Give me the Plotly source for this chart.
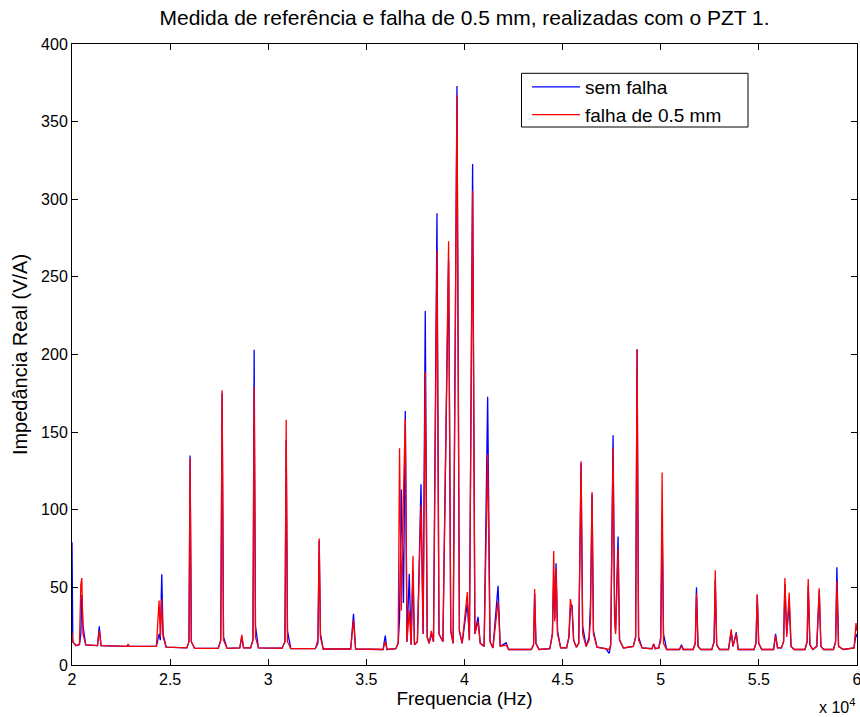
import plotly.graph_objects as go

# ---- data (frequency in Hz, real impedance in V/A) ----
freq_a = [20000, 20040, 20200, 20380, 20450, 20500, 20560, 20700, 21300, 21390, 21480,
          22800, 22856, 22920, 24300, 24437, 24500, 24574, 24640, 24800, 25850, 25960,
          26017, 26080, 26250, 27450, 27580, 27649, 27720, 27900, 28550, 28653, 28740,
          29100, 29220, 29281, 29350, 29500]
sem_a = [79, 15, 12.5, 13, 20, 45, 25, 13, 12.5, 25, 12.5,
         12, 12.5, 12, 12, 20, 16, 58.5, 20, 11.5, 11, 15,
         135, 15, 10.8, 10.7, 16, 175, 18, 10.7, 11, 18, 11,
         11, 16, 203, 25, 11]
falha_a = [21, 15, 12.5, 13.5, 52, 56, 20, 13, 12.5, 22, 12.5,
           12, 13.5, 12, 12, 41.5, 18, 42.5, 18, 11.5, 11, 15,
           133, 15, 10.8, 10.7, 16, 177, 16, 10.7, 11, 19.5, 11,
           11, 16, 179, 18, 11]

freq_b = [30700, 30850, 30913, 30980, 31150, 32400, 32530, 32596, 32660, 32800, 34200,
          34345, 34450, 35850, 35961, 36050, 36500, 36620, 36690, 36780, 36890, 36983,
          37070, 37185, 37280, 37373, 37450, 37600, 37783, 37890, 38000, 38100, 38200,
          38310, 38420, 38597, 38700, 38900, 39190, 39300, 39420, 39617, 39740, 39880]
sem_b = [10.8, 15, 145, 22, 10.5, 10.5, 14, 80, 20, 10.3, 10.3,
         33, 10.3, 10, 19, 10, 10.5, 14, 30, 113, 40, 163.6,
         15, 58.8, 13, 60, 13, 15, 116.4, 20, 228, 18, 14,
         20, 15, 291, 20, 15, 261, 22, 14, 373, 22, 14]
falha_b = [10.8, 15, 158, 15, 10.5, 10.5, 16, 81.5, 18, 10.3, 10.3,
           29, 10.3, 10, 15, 10, 10.5, 14, 139.6, 35, 110.6, 158.5,
           15, 35, 13, 70.4, 13, 15, 103, 20, 189, 18, 14,
           22, 15, 267, 20, 15, 273, 22, 14, 367, 22, 14]

freq_c = [40145, 40250, 40413, 40530, 40690, 40800, 41000, 41180, 41300, 41450, 41710,
          41820, 42118, 42250, 43400, 43520, 43575, 43640, 43800, 44350, 44480, 44545,
          44600, 44665, 44740, 44900, 45200, 45320, 45395, 45480, 45560, 45700, 45820,
          45940, 46020, 46200, 46350, 46420, 46500, 46570, 46750, 47200, 47370, 47450,
          47570, 47650, 47700, 47825, 47900, 48100, 48600, 48720, 48794, 48870, 49050,
          49550, 49640, 49720]
sem_c = [40, 16, 322.7, 20, 31, 14, 12, 172.8, 15, 11, 51,
         12, 14.4, 10, 10, 13, 46, 14, 10, 10.5, 20, 58,
         30, 65.5, 22, 11, 11, 18, 36, 38.6, 16, 11.5, 14,
         130, 25, 12, 18, 40, 110, 22, 11.5, 10.5, 7.5, 13,
         148, 30, 22, 82.7, 16, 11, 12, 18, 203, 18, 11,
         10.5, 13.5, 10.5]
falha_c = [47, 16, 305.5, 20, 28, 14, 12, 135.7, 15, 11, 41,
           12, 13, 10, 10, 13, 49, 14, 10, 10.5, 20, 73.4,
           28, 62, 20, 11, 11, 18, 42.5, 36, 16, 11.5, 14,
           131.2, 20, 12, 16, 30, 111.4, 20, 11.5, 10.5, 10, 13,
           140, 28, 20, 75, 16, 11, 12, 18, 203.5, 16, 11,
           10.5, 13.5, 10.5]

freq_d = [49900, 50000, 50070, 50140, 50300, 50950, 51056, 51150, 51650, 51760, 51820,
          51900, 52050, 52600, 52720, 52776, 52850, 53000, 53450, 53590, 53680, 53846,
          53950, 54750, 54850, 54917, 54990, 55150, 55750, 55850, 55950, 56150, 56260,
          56325, 56420, 56545, 56640, 56800, 57350, 57460, 57515, 57600, 57750, 57950,
          58076, 58160, 58300, 58800, 58910, 58975, 59060, 59300, 59850, 59950, 60000]
sem_d = [11, 18, 96.6, 20, 10, 10, 13, 10, 10, 14, 50,
         12, 10, 10, 15, 55, 13, 10, 10, 21, 12, 21,
         10, 10, 14, 45, 14, 10, 10, 20, 11, 11, 15,
         52, 20, 40, 12, 10, 10, 15, 51, 13, 10, 12,
         48, 12, 10, 10, 15, 63, 12, 10, 11, 20, 18]
falha_d = [11, 16, 124, 14, 10, 10, 12, 10, 10, 14, 46,
           12, 10, 10, 15, 61, 13, 10, 10, 23, 12, 20,
           10, 10, 14, 45.5, 14, 10, 10, 19, 11, 11, 15,
           56, 18, 46.6, 12, 10, 10, 15, 55.4, 13, 10, 12,
           49.4, 12, 10, 10, 15, 54, 12, 10, 11, 27, 22]

x_tickvals = [20000, 25000, 30000, 35000, 40000, 45000, 50000, 55000, 60000]
x_ticktext = ["2", "2.5", "3", "3.5", "4", "4.5", "5", "5.5", "6"]
y_tickvals = [0, 50, 100, 150, 200, 250, 300, 350, 400]

freq = freq_a + freq_b + freq_c + freq_d
sem_falha = sem_a + sem_b + sem_c + sem_d
falha = falha_a + falha_b + falha_c + falha_d

FONT = "Liberation Sans, Arial, Helvetica, sans-serif"
W, H = 860, 717
ML, MR, MT, MB = 72, 3, 44, 52
PW, PH = W - ML - MR, H - MT - MB


def px_x(p):
    return (p - ML) / PW


def px_y(p):
    return (H - MB - p) / PH


fig = go.Figure()
fig.add_trace(go.Scatter(x=freq, y=sem_falha, mode="lines", name="sem falha",
                         line=dict(color="#0000ff", width=1.3)))
fig.add_trace(go.Scatter(x=freq, y=falha, mode="lines", name="falha de 0.5 mm",
                         line=dict(color="#ff0000", width=1.3)))

axis_common = dict(showgrid=False, zeroline=False, showline=True, linecolor="black",
                   linewidth=1, mirror="allticks", ticks="inside", ticklen=6,
                   automargin=False,
                   tickcolor="black", tickfont=dict(family=FONT, size=16, color="black"))

fig.update_layout(
    width=W, height=H,
    margin=dict(l=ML, r=MR, t=MT, b=MB, autoexpand=False),
    paper_bgcolor="white", plot_bgcolor="white",
    font=dict(family=FONT, color="black"),
    title=dict(text="Medida de referência e falha de 0.5 mm, realizadas com o PZT 1.",
               x=0.5, xref="paper", xanchor="center",
               y=1 - 18 / H, yref="container", yanchor="middle",
               font=dict(family=FONT, size=21, color="black")),
    xaxis=dict(range=[20000, 60000], tickvals=x_tickvals, ticktext=x_ticktext,
               ticklabeloverflow="allow",
               title=dict(text="Frequencia (Hz)", font=dict(family=FONT, size=19), standoff=2),
               **axis_common),
    yaxis=dict(range=[0, 400], tickvals=y_tickvals,
               title=dict(text="Impedância Real (V/A)", font=dict(family=FONT, size=20), standoff=8),
               **axis_common),
    legend=dict(x=px_x(527), y=px_y(68), xanchor="left", yanchor="top",
                bgcolor="rgba(0,0,0,0)", borderwidth=0,
                itemwidth=48, tracegroupgap=0,
                font=dict(family=FONT, size=19, color="black")),
    showlegend=True,
)

# legend frame (the legend entries are the real plotly legend above)
fig.add_shape(type="rect", xref="paper", yref="paper",
              x0=px_x(521.5), x1=px_x(748), y0=px_y(127), y1=px_y(73.3),
              line=dict(color="black", width=1), fillcolor="white", layer="below")

fig.add_annotation(text="x 10<sup>4</sup>", xref="paper", yref="paper",
                   x=1, y=-0.066, xanchor="right", yanchor="middle", showarrow=False,
                   font=dict(family=FONT, size=16, color="black"))

fig.write_html("out.html")
